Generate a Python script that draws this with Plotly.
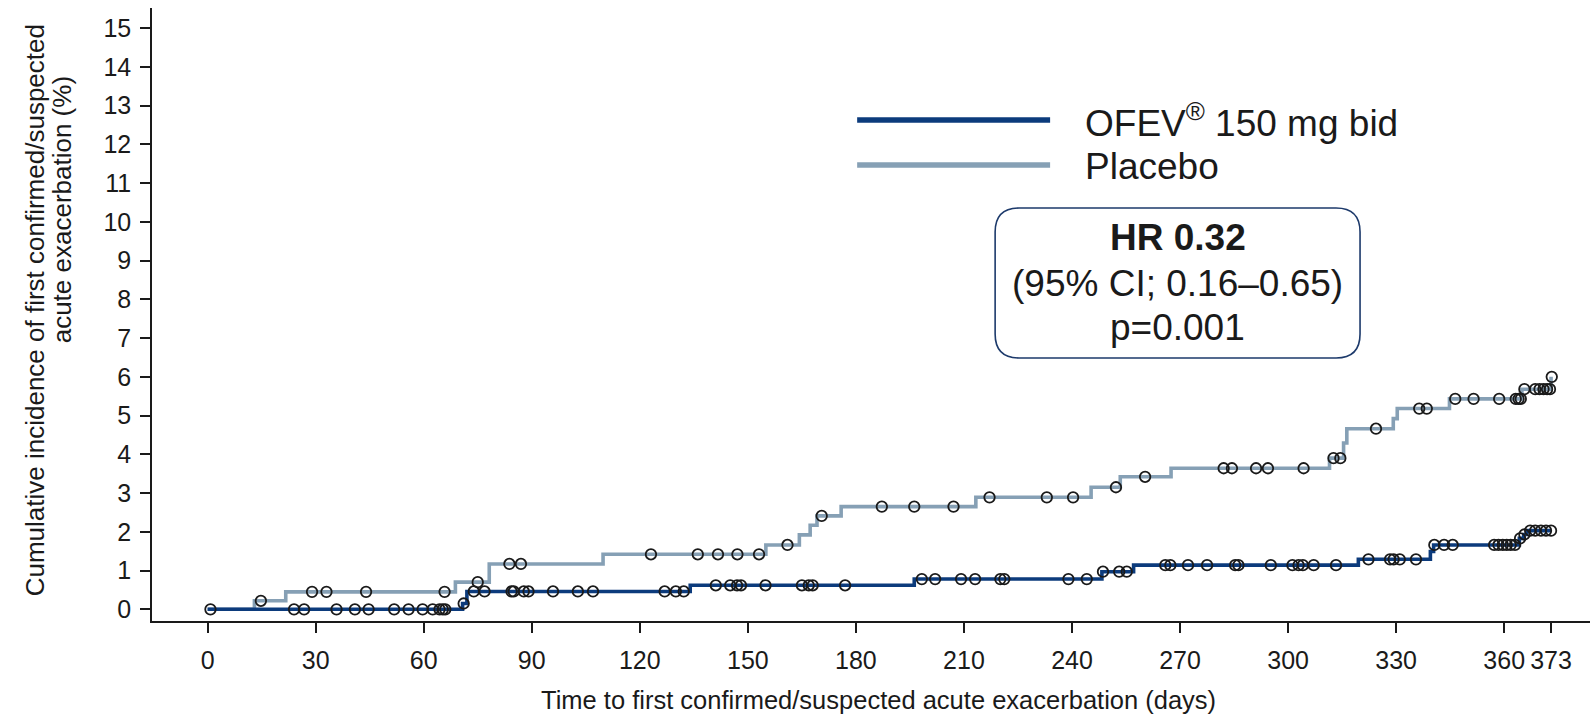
import numpy as np
import plotly.graph_objects as go

# Kaplan-Meier style cumulative incidence (%) step curves
ofev_step_days = [0, 70.8, 72.0, 134.0, 196.2, 248.3, 257.1, 319.5, 339.5, 340.4, 364.2, 365.4, 366.3, 373.0]
ofev_step_vals = [0, 0.15, 0.46, 0.62, 0.78, 0.97, 1.14, 1.29, 1.49, 1.66, 1.83, 1.93, 2.03, 2.03]
ofev_censored = [0.8, 24.0, 26.8, 35.8, 40.9, 44.7, 51.8, 55.8, 59.7, 62.5, 64.4, 65.3, 66.0, 71.1,
                 73.9, 76.9, 84.4, 85.0, 87.8, 89.1, 95.9, 102.8, 107.0, 126.9, 130.0, 132.2,
                 141.1, 145.1, 147.0, 148.1, 154.9, 165.0, 166.9, 168.0, 177.0, 198.3, 202.0,
                 209.2, 213.1, 220.1, 221.2, 239.0, 244.1, 248.6, 253.1, 255.2, 265.9, 267.3,
                 272.2, 277.5, 285.3, 286.2, 295.2, 301.2, 302.9, 304.1, 307.1, 313.3, 322.3,
                 328.3, 329.3, 331.0, 335.5, 340.6, 343.3, 345.7, 357.2, 358.4, 359.6, 360.7,
                 361.8, 363.0, 364.4, 365.6, 367.2, 368.6, 370.2, 371.6, 373.0]

placebo_step_days = [0, 13.0, 21.7, 68.8, 78.2, 109.8, 155.0, 164.3, 167.3, 169.2, 175.9, 213.3,
                     245.3, 253.4, 267.5, 311.5, 315.4, 316.3, 329.2, 330.3, 344.8, 364.9, 373.0]
placebo_step_vals = [0, 0.22, 0.45, 0.70, 1.17, 1.42, 1.66, 1.92, 2.17, 2.41, 2.65, 2.89,
                     3.15, 3.42, 3.64, 3.90, 4.29, 4.66, 4.92, 5.18, 5.43, 5.68, 6.00]
placebo_censored = [14.8, 29.0, 33.0, 44.0, 65.8, 75.0, 83.8, 87.0, 123.1, 136.1, 141.7, 147.1,
                    153.1, 161.0, 170.5, 187.2, 196.2, 207.1, 217.1, 233.0, 240.3, 252.2, 260.3,
                    282.1, 284.4, 291.1, 294.4, 304.3, 312.6, 314.5, 324.4, 336.4, 338.5, 346.4,
                    351.5, 358.6, 363.2, 364.0, 364.6, 365.6, 368.6, 369.8, 370.9, 371.9, 372.7,
                    373.2]

x_ticks = [0, 30, 60, 90, 120, 150, 180, 210, 240, 270, 300, 330, 360, 373]
y_ticks = list(range(0, 16))

OFEV_COLOR = "#0c3b7c"
PLACEBO_COLOR = "#86a0b5"
INK = "#1a1a1a"
FONT = "Liberation Sans, Arial, Helvetica, sans-serif"


def value_at(days, step_days, step_vals):
    idx = np.searchsorted(np.array(step_days), np.array(days), side="right") - 1
    return np.array(step_vals)[idx]


fig = go.Figure()

fig.add_trace(go.Scatter(x=placebo_step_days, y=placebo_step_vals, mode="lines",
                         line=dict(shape="hv", color=PLACEBO_COLOR, width=3.6),
                         showlegend=False, hoverinfo="skip"))
fig.add_trace(go.Scatter(x=ofev_step_days, y=ofev_step_vals, mode="lines",
                         line=dict(shape="hv", color=OFEV_COLOR, width=3.6),
                         showlegend=False, hoverinfo="skip"))

marker_style = dict(symbol="circle-open", size=10.5, color=INK, line=dict(width=1.8, color=INK))
fig.add_trace(go.Scatter(x=placebo_censored,
                         y=value_at(placebo_censored, placebo_step_days, placebo_step_vals),
                         mode="markers", marker=marker_style, showlegend=False))
fig.add_trace(go.Scatter(x=ofev_censored,
                         y=value_at(ofev_censored, ofev_step_days, ofev_step_vals),
                         mode="markers", marker=marker_style, showlegend=False))

# plot area geometry (pixels)
L, R, T, B = 151.7, 1590, 8, 621
W, H = 1590, 717


def fx(px):
    return (px - L) / (R - L)


def fy(py):
    return (B - py) / (B - T)


shapes = []
# legend samples
shapes.append(dict(type="line", xref="paper", yref="paper", x0=fx(857), x1=fx(1050),
                   y0=fy(120), y1=fy(120), line=dict(color=OFEV_COLOR, width=5.5)))
shapes.append(dict(type="line", xref="paper", yref="paper", x0=fx(857), x1=fx(1050),
                   y0=fy(165), y1=fy(165), line=dict(color=PLACEBO_COLOR, width=5.5)))

# rounded box around the hazard ratio
bx0, bx1, by0, by1, r = 995, 1360, 208, 358, 24


def P(x, y):
    return f"{fx(x):.5f},{fy(y):.5f}"


path = (f"M {P(bx0 + r, by0)} L {P(bx1 - r, by0)} Q {P(bx1, by0)} {P(bx1, by0 + r)} "
        f"L {P(bx1, by1 - r)} Q {P(bx1, by1)} {P(bx1 - r, by1)} "
        f"L {P(bx0 + r, by1)} Q {P(bx0, by1)} {P(bx0, by1 - r)} "
        f"L {P(bx0, by0 + r)} Q {P(bx0, by0)} {P(bx0 + r, by0)} Z")
shapes.append(dict(type="path", xref="paper", yref="paper", path=path,
                   line=dict(color="#1d3a6b", width=1.6), fillcolor="rgba(255,255,255,0)"))

annotations = []
annotations.append(dict(xref="paper", yref="paper", x=fx(1083), y=fy(120), xanchor="left",
                        yanchor="middle", showarrow=False,
                        text="OFEV<sup>®</sup> 150 mg bid",
                        font=dict(family=FONT, size=37, color=INK)))
annotations.append(dict(xref="paper", yref="paper", x=fx(1083), y=fy(166), xanchor="left",
                        yanchor="middle", showarrow=False, text="Placebo",
                        font=dict(family=FONT, size=37, color=INK)))
cx = (bx0 + bx1) / 2
for txt, yy, bold in [("HR 0.32", 238, True), ("(95% CI; 0.16–0.65)", 283, False),
                      ("p=0.001", 327, False)]:
    annotations.append(dict(xref="paper", yref="paper", x=fx(cx), y=fy(yy), xanchor="center",
                            yanchor="middle", showarrow=False,
                            text=f"<b>{txt}</b>" if bold else txt,
                            font=dict(family=FONT, size=37, color=INK)))

# axis titles
annotations.append(dict(xref="paper", yref="paper", x=fx(35), y=fy(310), xanchor="center",
                        yanchor="middle", showarrow=False, textangle=-90,
                        text="Cumulative incidence of first confirmed/suspected",
                        font=dict(family=FONT, size=26, color=INK)))
annotations.append(dict(xref="paper", yref="paper", x=fx(62), y=fy(210), xanchor="center",
                        yanchor="middle", showarrow=False, textangle=-90,
                        text="acute exacerbation (%)",
                        font=dict(family=FONT, size=26, color=INK)))
annotations.append(dict(xref="paper", yref="paper", x=fx(878), y=fy(700), xanchor="center",
                        yanchor="middle", showarrow=False,
                        text="Time to first confirmed/suspected acute exacerbation (days)",
                        font=dict(family=FONT, size=25.5, color=INK)))

x_lo = -(207.3 - L) / 3.6025
x_hi = (R - 207.3) / 3.6025
y_lo = -(B - 609.3) / 38.75
y_hi = (609.3 - T) / 38.75

fig.update_layout(
    width=W, height=H,
    margin=dict(l=L, r=W - R, t=T, b=H - B, pad=0),
    paper_bgcolor="white", plot_bgcolor="white",
    shapes=shapes, annotations=annotations,
    xaxis=dict(range=[x_lo, x_hi], tickvals=x_ticks, ticktext=[str(v) for v in x_ticks],
               showline=True, linecolor=INK, linewidth=1.6, ticks="outside", ticklen=10,
               tickwidth=1.6, tickcolor=INK, showgrid=False, zeroline=False,
               tickfont=dict(family=FONT, size=25, color=INK), ticklabelstandoff=6),
    yaxis=dict(range=[y_lo, y_hi], tickvals=y_ticks, showline=True, linecolor=INK,
               linewidth=1.6, ticks="outside", ticklen=10, tickwidth=1.6, tickcolor=INK,
               showgrid=False, zeroline=False,
               tickfont=dict(family=FONT, size=25, color=INK), ticklabelstandoff=4),
    showlegend=False,
)

fig.write_html("out.html")
